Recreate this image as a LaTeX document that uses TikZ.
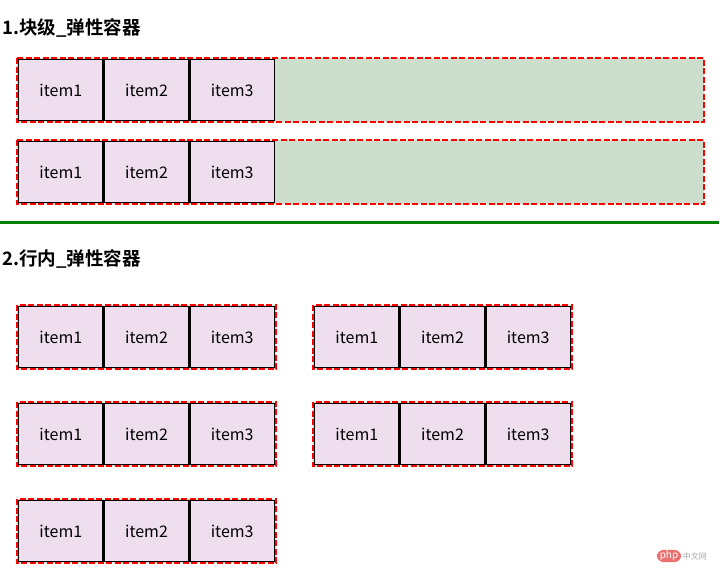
\documentclass[tikz,border=0pt]{standalone}
\usepackage{fontspec}
\setmainfont{Noto Sans CJK SC}
\newfontfamily\cjkbold{Noto Sans CJK SC Bold}
\definecolor{itemfill}{RGB}{238,222,238}
\definecolor{boxgreen}{RGB}{205,222,204}
\definecolor{linegreen}{RGB}{0,128,0}
\definecolor{phpred}{RGB}{236,110,110}
\begin{document}
\begin{tikzpicture}[x=1pt,y=-1pt,
  container/.style={draw=red, line width=2.2pt, dash pattern=on 6pt off 2.5pt, fill=boxgreen},
  itembox/.style={draw=black, line width=1.3pt, fill=itemfill,
    minimum width=84.37pt, minimum height=60.7pt, inner sep=0pt, outer sep=0pt,
    font=\fontsize{16}{18}\selectfont},
  title/.style={anchor=west, inner sep=0pt, font=\cjkbold\fontsize{18.5}{21}\selectfont}]
\useasboundingbox (0,0) rectangle (722,570);

\node[title] (t1) at (2,28) {1.块级\_弹性容器};
\node[title] (t2) at (2,259) {2.行内\_弹性容器};

% block containers (outer top y)
\foreach \n/\y in {a/57,b/139}{
  \draw[container] (17,\y+1) rectangle (704,\y+65);
  \node[itembox] (\n1) at (18+42.83,\y+33) {item1};
  \node[itembox] (\n2) at (18+128.5,\y+33) {item2};
  \node[itembox] (\n3) at (18+214.17,\y+33) {item3};
}

\draw[linegreen, line width=3pt] (0,222) -- (719,222);

% inline containers (outer left x, outer top y)
\foreach \n/\x/\y in {c/16/304,d/312/304,e/16/401,f/312/401,g/16/498}{
  \draw[container] (\x+1,\y+1) rectangle (\x+260,\y+65);
  \node[itembox] (\n1) at (\x+2+42.83,\y+33) {item1};
  \node[itembox] (\n2) at (\x+2+128.5,\y+33) {item2};
  \node[itembox] (\n3) at (\x+2+214.17,\y+33) {item3};
}

% watermark
\node[fill=phpred, text=white, rounded corners=7pt, inner xsep=3pt, inner ysep=1pt,
  font=\fontsize{10}{11}\selectfont\itshape] (wm1) at (669,556) {php};
\node[anchor=west, text=gray!70, inner sep=0pt, font=\fontsize{8}{9}\selectfont] (wm2) at (wm1.east) {\,中文网};
\end{tikzpicture}
\end{document}
